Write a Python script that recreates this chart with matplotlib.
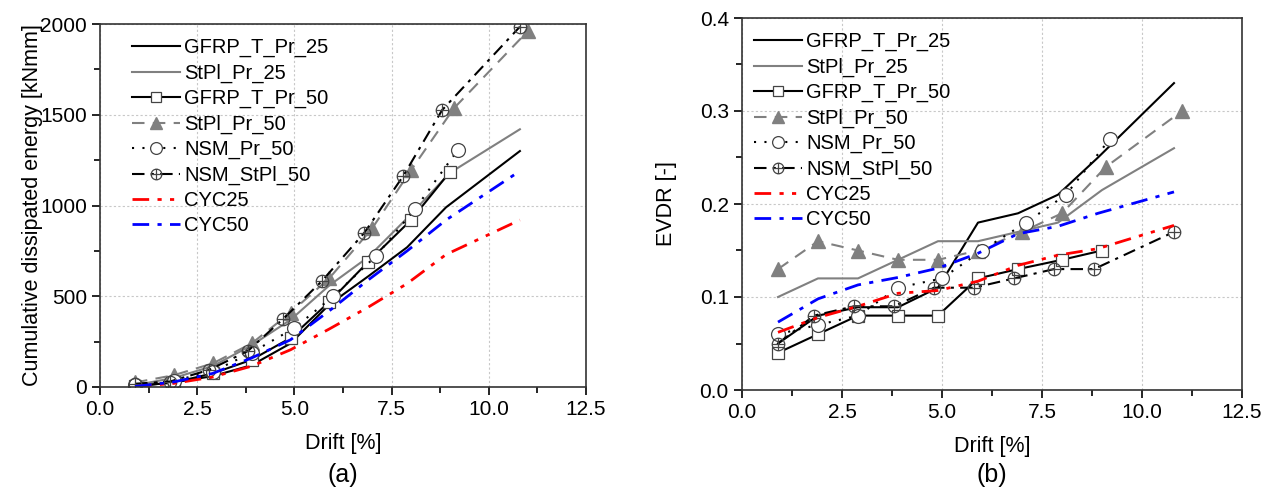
import numpy as np
import matplotlib
matplotlib.use("Agg")
import matplotlib.pyplot as plt
from matplotlib.path import Path
from matplotlib.ticker import MultipleLocator

plt.rcParams['font.family'] = ['Liberation Sans', 'DejaVu Sans']

# ---- data (a): cumulative dissipated energy [kNmm] ----
gfrp25_x = [0.9, 1.9, 2.9, 3.9, 4.9, 5.9, 6.9, 7.9, 8.9, 10.8]
gfrp25_e = [5, 25, 60, 120, 240, 455, 610, 770, 990, 1300]
stpl25_x = [0.9, 1.9, 2.9, 3.9, 4.9, 5.9, 6.9, 7.9, 9.0, 10.8]
stpl25_e = [10, 50, 115, 230, 370, 560, 716, 930, 1180, 1420]
gfrp50_x = [0.9, 1.9, 2.9, 3.9, 4.9, 5.9, 6.9, 8.0, 9.0]
gfrp50_e = [5, 25, 75, 150, 270, 470, 690, 920, 1185]
stpl50_x = [0.9, 1.9, 2.9, 3.9, 4.9, 5.9, 7.0, 8.0, 9.1, 11.0]
stpl50_e = [25, 65, 130, 240, 410, 600, 874, 1195, 1535, 1960]
nsm50_x = [0.9, 1.9, 2.9, 3.9, 5.0, 6.0, 7.1, 8.1, 9.2]
nsm50_e = [10, 35, 85, 190, 325, 500, 722, 980, 1305]
nsmst_x = [0.9, 1.8, 2.8, 3.8, 4.7, 5.7, 6.8, 7.8, 8.8, 10.8]
nsmst_e = [18, 30, 94, 198, 373, 582, 850, 1163, 1526, 1985]
cyc_x = [0.9, 1.9, 2.9, 3.9, 4.9, 5.9, 6.9, 7.9, 8.9, 10.8]
cyc25_e = [2, 20, 55, 115, 205, 320, 440, 570, 730, 920]
cyc50_e = [3, 28, 75, 160, 260, 420, 590, 750, 920, 1190]

# ---- data (b): EVDR [-] ----
gfrp25_v = [0.05, 0.08, 0.089, 0.089, 0.11, 0.18, 0.19, 0.21, 0.25, 0.33]
stpl25_v = [0.10, 0.12, 0.12, 0.14, 0.16, 0.16, 0.17, 0.18, 0.215, 0.26]
gfrp50_v = [0.04, 0.06, 0.08, 0.08, 0.08, 0.12, 0.13, 0.14, 0.15]
stpl50_bx = [0.9, 1.9, 2.9, 3.9, 4.9, 5.9, 7.0, 8.0, 9.1, 11.0]
stpl50_v = [0.13, 0.16, 0.15, 0.14, 0.14, 0.15, 0.17, 0.19, 0.24, 0.30]
nsm50_v = [0.06, 0.07, 0.08, 0.11, 0.12, 0.15, 0.18, 0.21, 0.27]
nsmst_bx = [0.9, 1.8, 2.8, 3.8, 4.8, 5.8, 6.8, 7.8, 8.8, 10.8]
nsmst_v = [0.05, 0.08, 0.09, 0.09, 0.11, 0.11, 0.12, 0.13, 0.13, 0.17]
cyc25_v = [0.062, 0.078, 0.09, 0.104, 0.107, 0.117, 0.134, 0.145, 0.152, 0.177]
cyc50_v = [0.073, 0.098, 0.113, 0.121, 0.131, 0.147, 0.168, 0.176, 0.19, 0.213]

labels = ['GFRP_T_Pr_25', 'StPl_Pr_25', 'GFRP_T_Pr_50', 'StPl_Pr_50',
          'NSM_Pr_50', 'NSM_StPl_50', 'CYC25', 'CYC50']

# crossed circle marker
circ = Path.unit_circle()
cross = Path([(-1, 0), (1, 0), (0, -1), (0, 1)],
             [Path.MOVETO, Path.LINETO, Path.MOVETO, Path.LINETO])
oplus = Path.make_compound_path(circ, cross)

grey = '#808080'
ms = 9


def draw(ax, series, leg_x):
    (x1, y1), (x2, y2), (x3, y3), (x4, y4), (x5, y5), (x6, y6), (x7, y7), (x8, y8) = series
    ax.plot(x1, y1, color='black', lw=1.5, ls='-', label=labels[0])
    ax.plot(x2, y2, color=grey, lw=1.5, ls='-', label=labels[1])
    ax.plot(x3, y3, color='black', lw=1.5, ls='-', marker='s', ms=ms,
            mfc='white', mec='#444444', mew=0.9, label=labels[2])
    ax.plot(x4, y4, color=grey, lw=1.5, ls=(0, (6, 4)), marker='^', ms=ms + 1,
            mfc=grey, mec=grey, label=labels[3])
    ax.plot(x5, y5, color='black', lw=1.5, ls=(0, (1, 4)), marker='o', ms=ms + 1,
            mfc='white', mec='#444444', mew=0.9, label=labels[4])
    ax.plot(x6, y6, color='black', lw=1.5, ls=(0, (6, 3, 1.5, 3)), marker=oplus, ms=ms,
            mfc='none', mec='#444444', mew=0.9, label=labels[5])
    ax.plot(x7, y7, color='red', lw=2, ls=(0, (6, 3, 1.5, 3, 1.5, 3)), label=labels[6])
    ax.plot(x8, y8, color='blue', lw=2, ls=(0, (6, 3, 1.5, 3)), label=labels[7])

    ax.set_xlim(0, 12.5)
    ax.xaxis.set_major_locator(MultipleLocator(2.5))
    ax.xaxis.set_minor_locator(MultipleLocator(1.25))
    ax.tick_params(which='both', direction='out', labelsize=15,
                   top=False, right=False)
    ax.tick_params(which='major', length=6, width=1.2)
    ax.tick_params(which='minor', length=4, width=1.2)
    ax.grid(True, which='major', color='#c8c8c8', ls=(0, (2, 2)), lw=0.8)
    for s in ax.spines.values():
        s.set_linewidth(1.2)
        s.set_color('#333333')
    ax.set_xlabel('Drift [%]', fontsize=15.5, labelpad=10)
    ax.legend(loc='upper left', bbox_to_anchor=(leg_x, 1.0), frameon=False,
              fontsize=14.5, handlelength=2.4, handletextpad=0.2,
              labelspacing=0.31, borderaxespad=0.3, markerscale=0.85)


fig = plt.figure(figsize=(12.74, 4.99), dpi=100)
axa = fig.add_axes([100 / 1274, 112 / 499, 486 / 1274, 363 / 499])
axb = fig.add_axes([742 / 1274, 109 / 499, 500 / 1274, 372 / 499])

draw(axa, [(gfrp25_x, gfrp25_e), (stpl25_x, stpl25_e), (gfrp50_x, gfrp50_e),
           (stpl50_x, stpl50_e), (nsm50_x, nsm50_e), (nsmst_x, nsmst_e),
           (cyc_x, cyc25_e), (cyc_x, cyc50_e)], 0.037)
axa.set_ylim(0, 2000)
axa.yaxis.set_major_locator(MultipleLocator(500))
axa.yaxis.set_minor_locator(MultipleLocator(250))
axa.set_ylabel('Cumulative dissipated energy [kNmm]', fontsize=15.5, labelpad=-2)

draw(axb, [(gfrp25_x, gfrp25_v), (stpl25_x, stpl25_v), (gfrp50_x, gfrp50_v),
           (stpl50_bx, stpl50_v), (nsm50_x, nsm50_v), (nsmst_bx, nsmst_v),
           (cyc_x, cyc25_v), (cyc_x, cyc50_v)], -0.005)
axb.set_ylim(0, 0.4)
axb.yaxis.set_major_locator(MultipleLocator(0.1))
axb.yaxis.set_minor_locator(MultipleLocator(0.05))
axb.set_ylabel('EVDR [-]', fontsize=15.5, labelpad=16)

fig.text(343 / 1274, 1 - 475 / 499, '(a)', fontsize=18, ha='center', va='center')
fig.text(992 / 1274, 1 - 475 / 499, '(b)', fontsize=18, ha='center', va='center')

fig.savefig('out.png', dpi=100)
